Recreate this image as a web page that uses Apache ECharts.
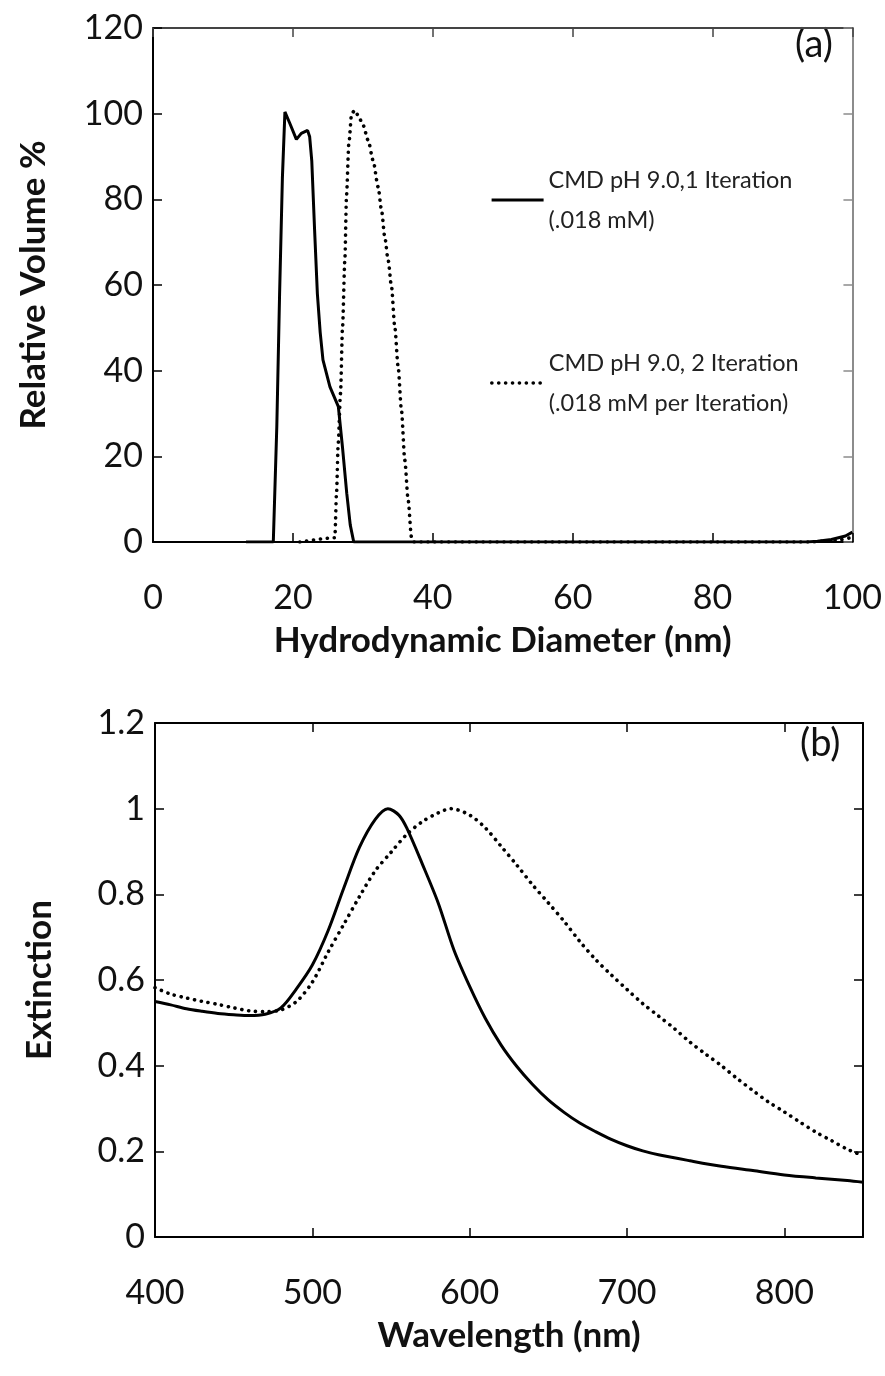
<!DOCTYPE html>
<html><head><meta charset="utf-8">
<script src="https://cdn.jsdelivr.net/npm/echarts@6/dist/echarts.min.js"></script>
<style>html,body{margin:0;padding:0;background:#fff}#c{width:885px;height:1376px}</style>
</head><body><div id="c"></div>
<script>
// ---- Panel (a): DLS size distribution ----
const diamSolid = [13.3, 17.2, 17.7, 18.1, 18.5, 18.86, 19.57, 20.5, 21.2, 22.1, 22.4, 22.7, 23.1, 23.5, 23.9, 24.3, 25.3, 26.5, 27.1, 27.7, 28.2, 28.7, 40, 60, 80, 93.5, 95, 97, 99, 100];
const volSolid  = [0, 0, 26.9, 58, 85, 100.4, 97.7, 94, 95.4, 96.1, 94.6, 89, 73, 58, 49, 42.5, 36.2, 31.6, 22, 11.4, 4, 0, 0, 0, 0, 0, 0.2, 0.6, 1.4, 2.3];
const diamDotted = [21, 26.0, 26.24, 26.48, 26.81, 27.1, 27.43, 27.67, 28.0, 28.4, 28.86, 29.33, 30.04, 30.76, 31.47, 32.19, 32.67, 33.14, 33.62, 34.1, 34.57, 35.05, 35.52, 36.0, 36.48, 36.95, 37.3, 60, 80, 94, 96, 98, 100];
const volDotted  = [0, 1, 11.4, 23, 34.7, 50.2, 65.8, 81, 93, 100, 100.8, 99.6, 97.3, 93.8, 89.1, 82.9, 77.5, 71.2, 65.8, 59.6, 50.2, 40.9, 30.8, 19.1, 9.8, 1.2, 0, 0, 0, 0, 0.2, 0.5, 1.1];
const diamTicks = [0, 20, 40, 60, 80, 100];
const volTicks = [0, 20, 40, 60, 80, 100, 120];

// ---- Panel (b): extinction spectra ----
const waveSolid = [400, 410, 420, 430, 440, 450, 460, 470, 480, 490, 500, 510, 520, 530, 540, 548, 555, 560, 570, 580, 590, 600, 610, 620, 630, 640, 650, 660, 670, 680, 690, 700, 710, 720, 740, 760, 780, 800, 820, 840, 850];
const extSolid  = [0.550, 0.542, 0.533, 0.527, 0.522, 0.519, 0.517, 0.520, 0.535, 0.580, 0.635, 0.715, 0.815, 0.910, 0.975, 1.000, 0.985, 0.955, 0.870, 0.780, 0.670, 0.585, 0.510, 0.448, 0.398, 0.356, 0.320, 0.291, 0.266, 0.246, 0.228, 0.213, 0.201, 0.192, 0.178, 0.165, 0.155, 0.145, 0.138, 0.132, 0.128];
const waveDotted = [400, 410, 420, 430, 440, 450, 460, 470, 480, 490, 500, 510, 520, 530, 540, 550, 560, 570, 580, 588, 600, 610, 620, 630, 640, 650, 660, 670, 680, 690, 700, 710, 720, 730, 740, 750, 760, 770, 780, 790, 800, 810, 820, 830, 840, 850];
const extDotted  = [0.582, 0.567, 0.558, 0.550, 0.543, 0.535, 0.528, 0.526, 0.530, 0.550, 0.595, 0.665, 0.730, 0.795, 0.855, 0.898, 0.940, 0.970, 0.990, 1.000, 0.985, 0.955, 0.912, 0.868, 0.822, 0.780, 0.737, 0.690, 0.648, 0.612, 0.578, 0.545, 0.516, 0.487, 0.455, 0.427, 0.400, 0.370, 0.342, 0.315, 0.292, 0.268, 0.245, 0.225, 0.205, 0.190];
const waveTicks = [400, 500, 600, 700, 800];
const extTicks = [0, 0.2, 0.4, 0.6, 0.8, 1, 1.2];

const nameS1 = 'CMD pH 9.0,1 Iteration\n(.018 mM)';
const nameS2 = 'CMD pH 9.0, 2 Iteration\n(.018 mM per Iteration)';

const FONT = 'Lato';
const TICK_FS = 34;
const TITLE_FS = 35;
const pairs = (xs, ys) => xs.map((x, i) => [x, ys[i]]);

const chart = echarts.init(document.getElementById('c'), null, {renderer: 'canvas'});

function mainX(grid, min, max, interval, name, showMax) {
  return {
    type: 'value', gridIndex: grid, min: min, max: max, interval: interval, position: 'bottom',
    name: name, nameLocation: 'middle', nameGap: 81,
    nameTextStyle: {fontFamily: FONT, fontWeight: 'bold', fontSize: TITLE_FS, color: '#111'},
    axisLine: {show: true, onZero: false, lineStyle: {color: '#000', width: 2}},
    axisTick: {show: true, inside: true, length: 9, lineStyle: {color: '#000', width: 1.5}},
    axisLabel: {show: true, fontFamily: FONT, fontSize: TICK_FS, color: '#111', margin: 39, showMaxLabel: showMax},
    splitLine: {show: false}
  };
}
function mainY(grid, min, max, interval, name, gap) {
  return {
    type: 'value', gridIndex: grid, min: min, max: max, interval: interval, position: 'left',
    name: name, nameLocation: 'middle', nameGap: gap, nameRotate: 90,
    nameTextStyle: {fontFamily: FONT, fontWeight: 'bold', fontSize: TITLE_FS, color: '#111'},
    axisLine: {show: true, onZero: false, lineStyle: {color: '#000', width: 2}},
    axisTick: {show: true, inside: true, length: 9, lineStyle: {color: '#000', width: 1.5}},
    axisLabel: {show: true, fontFamily: FONT, fontSize: TICK_FS, color: '#111', margin: 10},
    splitLine: {show: false}
  };
}
function frameX(grid, min, max, interval, color) {
  return {
    type: 'value', gridIndex: grid, min: min, max: max, interval: interval, position: 'top',
    axisLine: {show: true, onZero: false, lineStyle: {color: color, width: 2}},
    axisTick: {show: true, inside: true, length: 9, lineStyle: {color: color, width: 1.5}},
    axisLabel: {show: false}, splitLine: {show: false}
  };
}
function frameY(grid, min, max, interval, color) {
  return {
    type: 'value', gridIndex: grid, min: min, max: max, interval: interval, position: 'right',
    axisLine: {show: true, onZero: false, lineStyle: {color: color, width: 2}},
    axisTick: {show: true, inside: true, length: 9, lineStyle: {color: color, width: 1.5}},
    axisLabel: {show: false}, splitLine: {show: false}
  };
}

const solidStyle = {color: '#000', width: 3};
const dotStyle = {color: '#000', width: 3.6, type: [0.1, 6.8], cap: 'round'};
const legendBase = {
  left: 490, padding: 0, itemWidth: 52, itemHeight: 2,
  itemStyle: {color: 'rgba(0,0,0,0)', borderColor: 'rgba(0,0,0,0)', borderWidth: 0},
  textStyle: {fontFamily: FONT, fontSize: 23.5, color: '#222', lineHeight: 40, padding: [40, 0, 0, 0]}
};

const option = {
  backgroundColor: '#fff',
  animation: false,
  grid: [
    {left: 153, top: 28, width: 700, height: 514},
    {left: 155, top: 723, width: 708, height: 514}
  ],
  xAxis: [
    mainX(0, diamTicks[0], diamTicks[diamTicks.length - 1], 20, 'Hydrodynamic Diameter (nm)', true),
    frameX(0, 0, 100, 20, '#444'),
    mainX(1, waveTicks[0], 850, 100, 'Wavelength (nm)', false),
    frameX(1, 400, 850, 100, '#000')
  ],
  yAxis: [
    mainY(0, volTicks[0], volTicks[volTicks.length - 1], 20, 'Relative Volume %', 102),
    frameY(0, 0, 120, 20, '#8c8c8c'),
    mainY(1, extTicks[0], extTicks[extTicks.length - 1], 0.2, 'Extinction', 98),
    frameY(1, 0, 1.2, 0.2, '#000')
  ],
  legend: [
    Object.assign({}, legendBase, {data: [nameS1], top: 140,
      lineStyle: {color: '#000', width: 3.2, type: 'solid'}}),
    Object.assign({}, legendBase, {data: [nameS2], top: 323,
      lineStyle: {color: '#000', width: 3.6, type: [0.1, 6.8], cap: 'round'}})
  ],
  graphic: [
    {type: 'text', left: 795, top: 26, style: {text: '(a)', font: '38px ' + FONT, fill: '#111'}},
    {type: 'text', left: 800, top: 725, style: {text: '(b)', font: '38px ' + FONT, fill: '#111'}}
  ],
  series: [
    {name: nameS1, type: 'line', xAxisIndex: 0, yAxisIndex: 0, data: pairs(diamSolid, volSolid),
     symbol: 'none', lineStyle: solidStyle, itemStyle: {color: '#000'}, z: 3},
    {name: nameS2, type: 'line', xAxisIndex: 0, yAxisIndex: 0, data: pairs(diamDotted, volDotted),
     symbol: 'none', smooth: 0.25, smoothMonotone: 'x', lineStyle: dotStyle, itemStyle: {color: '#000'}, z: 2},
    {name: 'Extinction 1 Iteration', type: 'line', xAxisIndex: 2, yAxisIndex: 2, data: pairs(waveSolid, extSolid),
     symbol: 'none', smooth: 0.3, lineStyle: solidStyle, itemStyle: {color: '#000'}, z: 3},
    {name: 'Extinction 2 Iteration', type: 'line', xAxisIndex: 2, yAxisIndex: 2, data: pairs(waveDotted, extDotted),
     symbol: 'none', smooth: 0.3, lineStyle: dotStyle, itemStyle: {color: '#000'}, z: 2}
  ]
};
chart.setOption(option);
</script>
</body></html>
